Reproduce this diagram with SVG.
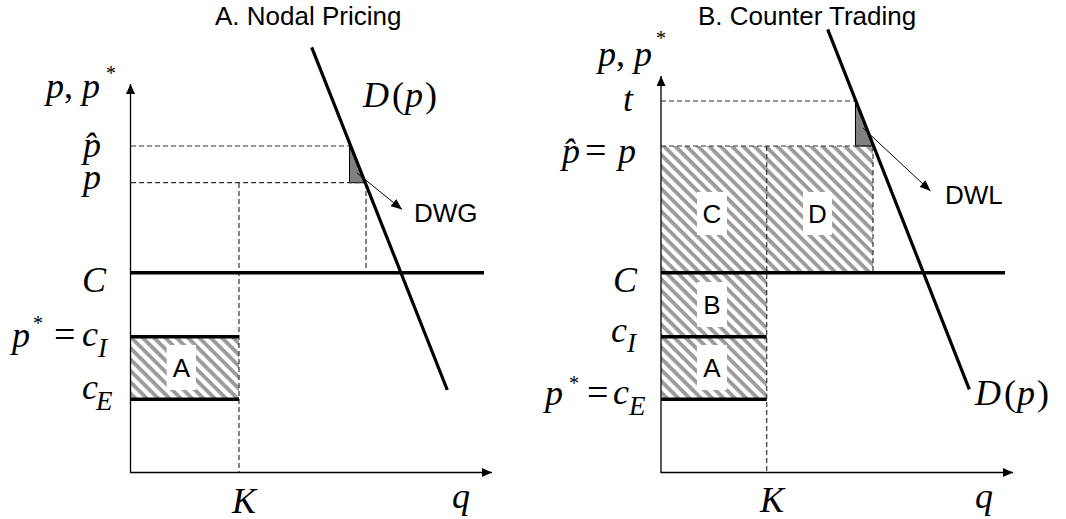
<svg xmlns="http://www.w3.org/2000/svg" width="1066" height="519" viewBox="0 0 1066 519">
<defs>
<style>
.m{font-family:"Liberation Serif","Times New Roman",serif;font-style:italic;font-size:36px;fill:#000}
.n{font-style:normal}
.st{font-family:"Liberation Serif","Times New Roman",serif;font-size:20px;fill:#000}
.sb{font-size:27px}
.s{font-family:"Liberation Sans",Arial,sans-serif;font-size:26px;fill:#000}
.lb{font-family:"Liberation Sans",Arial,sans-serif;font-size:26px;fill:#000;text-anchor:middle}
.axis{stroke:#000;stroke-width:1.3;fill:none}
.thick{stroke:#000;stroke-width:3.5;fill:none}
.dem{stroke:#000;stroke-width:3.2;fill:none}
.dash{stroke:#333;stroke-width:1.2;stroke-dasharray:5 3;fill:none}
.ptr{stroke:#000;stroke-width:1;fill:none}
.tri{fill:#808080;stroke:#000;stroke-width:1}
.box{fill:#fff}
</style>
<pattern id="hatch" patternUnits="userSpaceOnUse" width="8" height="8" patternTransform="rotate(45)">
<rect width="8" height="8" fill="#fff"/>
<rect width="8" height="3.8" fill="#9a9a9a"/>
</pattern>
<marker id="ax" viewBox="0 0 10 9" refX="10" refY="4.5" markerWidth="10" markerHeight="9" orient="auto" markerUnits="userSpaceOnUse">
<path d="M0,0 L10,4.5 L0,9 z" fill="#000"/>
</marker>
<marker id="pt" viewBox="0 0 11 9" refX="11" refY="4.5" markerWidth="11" markerHeight="9" orient="auto" markerUnits="userSpaceOnUse">
<path d="M0,0 L11,4.5 L0,9 z" fill="#000"/>
</marker>
</defs>
<rect width="1066" height="519" fill="#fff"/>

<g id="panelA">
<g id="A-areas">
<rect x="130.5" y="336.7" width="108.5" height="62.6" fill="url(#hatch)"/>
<rect class="box" x="166.7" y="345" width="29.3" height="45"/>
<polygon class="tri" points="349.5,146 349.5,182.7 365.3,182.7"/>
</g>
<g id="A-connectors">
<line class="dash" x1="131" y1="146" x2="349.5" y2="146"/>
<line class="dash" x1="131" y1="182.7" x2="365.3" y2="182.7"/>
<line class="dash" x1="239" y1="183" x2="239" y2="472"/>
<line class="dash" x1="366" y1="183" x2="366" y2="271"/>
<line class="thick" x1="130.5" y1="272.7" x2="484" y2="272.7"/>
<line class="thick" x1="130.5" y1="336.7" x2="239" y2="336.7"/>
<line class="thick" x1="130.5" y1="399.3" x2="239" y2="399.3"/>
<line class="dem" x1="311.7" y1="47.3" x2="447.3" y2="390"/>
<line class="axis" x1="130.5" y1="472.5" x2="130.5" y2="84" marker-end="url(#ax)"/>
<line class="axis" x1="130" y1="472.5" x2="492" y2="472.5" marker-end="url(#ax)"/>
<line class="ptr" x1="357" y1="173" x2="402" y2="209.5" marker-end="url(#pt)"/>
</g>
<g id="A-labels">
<text class="s" x="215" y="25">A. Nodal Pricing</text>
<text class="m" x="46" y="98">p<tspan class="n">, </tspan>p</text>
<text class="st" x="106" y="80">*</text>
<text class="m" x="83" y="157">p&#770;</text>
<text class="m" x="83" y="189">p</text>
<text class="m" x="363" y="107">D<tspan class="n" dx="3">(</tspan><tspan dx="1">p</tspan><tspan class="n" dx="2">)</tspan></text>
<text class="s" x="414" y="222">DWG</text>
<text class="m" x="82" y="292">C</text>
<text class="m" x="12" y="347">p</text>
<text class="st" x="33" y="330">*</text>
<text class="m" x="54" y="347" style="font-size:38px"><tspan class="n">=</tspan></text>
<text class="m" x="82" y="346">c</text>
<text class="m sb" x="98" y="357">I</text>
<text class="m" x="82" y="399">c</text>
<text class="m sb" x="96" y="410">E</text>
<text class="lb" x="181.3" y="376.5">A</text>
<text class="m" x="232" y="513">K</text>
<text class="m" x="452" y="508">q</text>
</g>
</g>

<g id="panelB">
<g id="B-areas">
<path d="M661,146 H873 V272.7 H766.7 V399.3 H661 Z" fill="url(#hatch)"/>
<rect class="box" x="697" y="192" width="30" height="43"/>
<rect class="box" x="803" y="192" width="29" height="43"/>
<rect class="box" x="697" y="282" width="30" height="45"/>
<rect class="box" x="697" y="345" width="30" height="45"/>
<polygon class="tri" points="855.5,101 855.5,146 873.4,146"/>
</g>
<g id="B-connectors">
<line class="dash" x1="661" y1="101" x2="855.5" y2="101"/>
<line class="dash" x1="661" y1="146" x2="873.4" y2="146"/>
<line class="dash" x1="766.7" y1="146" x2="766.7" y2="472"/>
<line class="dash" x1="873" y1="146" x2="873" y2="271"/>
<line class="thick" x1="661" y1="272.7" x2="1005" y2="272.7"/>
<line class="thick" x1="661" y1="336.7" x2="766.7" y2="336.7"/>
<line class="thick" x1="661" y1="399.3" x2="766.7" y2="399.3"/>
<line class="dem" x1="827.7" y1="29.3" x2="969.3" y2="389.3"/>
<line class="axis" x1="661" y1="472.5" x2="661" y2="76" marker-end="url(#ax)"/>
<line class="axis" x1="660.5" y1="472.5" x2="1013" y2="472.5" marker-end="url(#ax)"/>
<line class="ptr" x1="863.3" y1="128.3" x2="930.5" y2="191" marker-end="url(#pt)"/>
</g>
<g id="B-labels">
<text class="s" x="698" y="25">B. Counter Trading</text>
<text class="m" x="598" y="66">p<tspan class="n">, </tspan>p</text>
<text class="st" x="656" y="45">*</text>
<text class="m" x="623" y="111">t</text>
<text class="m" x="562" y="163">p&#770;</text>
<text class="m" x="585" y="163" style="font-size:38px"><tspan class="n">=</tspan></text>
<text class="m" x="618" y="163">p</text>
<text class="s" x="945" y="204">DWL</text>
<text class="lb" x="712" y="222.5">C</text>
<text class="lb" x="817.5" y="222.5">D</text>
<text class="m" x="613" y="292">C</text>
<text class="lb" x="712" y="313.5">B</text>
<text class="m" x="611" y="342">c</text>
<text class="m sb" x="627" y="352">I</text>
<text class="lb" x="712" y="376.5">A</text>
<text class="m" x="545" y="405">p</text>
<text class="st" x="569" y="390">*</text>
<text class="m" x="587" y="405" style="font-size:38px"><tspan class="n">=</tspan></text>
<text class="m" x="613" y="404">c</text>
<text class="m sb" x="629" y="415">E</text>
<text class="m" x="975" y="405">D<tspan class="n" dx="3">(</tspan><tspan dx="1">p</tspan><tspan class="n" dx="2">)</tspan></text>
<text class="m" x="760" y="512">K</text>
<text class="m" x="975" y="508">q</text>
</g>
</g>
</svg>
